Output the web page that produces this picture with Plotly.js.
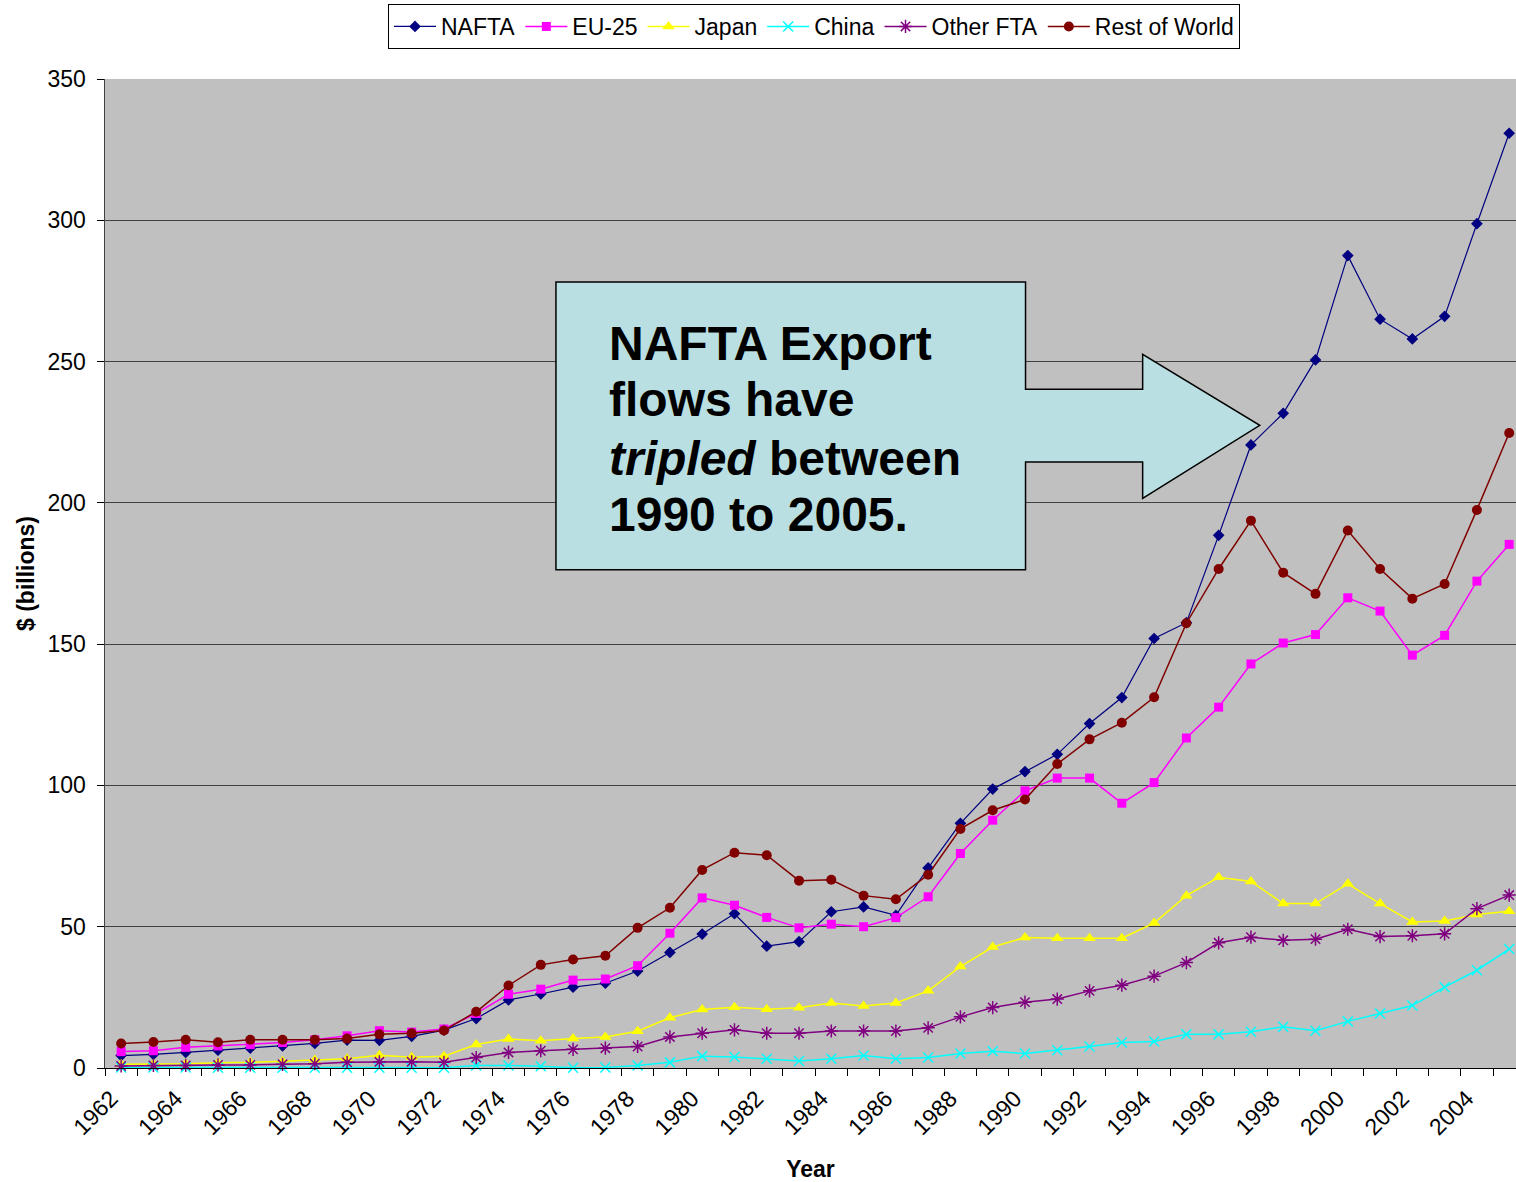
<!DOCTYPE html>
<html>
<head>
<meta charset="utf-8">
<script src="https://cdn.plot.ly/plotly-3.0.1.min.js"></script>
<style>html,body{margin:0;padding:0;background:#fff;}#chart{width:1516px;height:1182px;}</style>
</head>
<body>
<div id="chart"></div>
<script>
const years = [1962,1963,1964,1965,1966,1967,1968,1969,1970,1971,1972,1973,1974,1975,1976,1977,1978,1979,1980,1981,1982,1983,1984,1985,1986,1987,1988,1989,1990,1991,1992,1993,1994,1995,1996,1997,1998,1999,2000,2001,2002,2003,2004,2005];

const nafta = [4.4,4.8,5.5,6.3,7.0,7.8,8.7,9.9,9.8,11.2,13.4,17.5,24.1,26.2,28.6,30.0,34.3,40.9,47.4,54.6,43.1,44.7,55.3,57.0,54.0,70.8,86.6,98.7,104.9,111.0,121.9,131.1,152.0,157.6,188.5,220.5,231.7,250.6,287.5,265.0,258.0,266.0,298.8,330.8];
const eu25 = [5.8,6.1,7.3,7.8,8.3,9.0,10.0,11.4,13.2,12.7,13.8,19.3,26.1,27.9,31.1,31.5,36.2,47.7,60.2,57.6,53.3,49.6,50.9,50.0,53.2,60.6,75.9,87.7,98.1,102.6,102.6,93.7,101.0,116.8,127.7,143.0,150.4,153.4,166.4,161.7,146.1,153.1,172.3,185.3];
const japan = [1.3,1.4,1.5,1.9,2.0,2.4,2.8,3.3,4.5,3.8,4.2,8.3,10.3,9.6,10.4,11.0,13.0,17.8,20.7,21.5,20.8,21.3,23.0,21.9,23.0,27.3,35.9,42.8,46.2,45.9,45.9,45.9,51.3,61.0,67.5,66.0,58.2,58.2,65.2,58.2,51.7,52.0,54.3,55.5];
const china = [0.2,0.2,0.2,0.1,0.1,0.1,0.1,0.1,0.1,0.1,0.1,0.9,0.9,0.6,0.1,0.2,0.9,2.0,4.2,3.9,3.3,2.5,3.3,4.4,3.3,3.7,5.1,5.9,5.1,6.3,7.6,9.0,9.4,11.9,11.9,12.8,14.6,13.2,16.5,19.3,22.1,28.6,34.6,42.1];
const otherFTA = [0.7,0.9,0.9,1.1,1.1,1.3,1.5,2.0,2.2,2.2,2.0,3.7,5.5,6.1,6.6,7.0,7.6,11.0,12.3,13.5,12.3,12.3,13.1,13.1,13.1,14.2,18.1,21.4,23.3,24.4,27.3,29.3,32.5,37.3,44.3,46.3,45.2,45.6,49.1,46.5,46.8,47.5,56.4,61.2];
const restOfWorld = [8.7,9.2,10.0,9.1,10.0,10.0,10.0,10.4,11.9,12.3,13.3,19.9,29.2,36.5,38.4,39.7,49.6,56.7,70.1,76.2,75.3,66.3,66.6,61.0,59.7,68.4,84.6,91.2,95.0,107.6,116.3,122.2,131.2,157.4,176.6,193.7,175.3,167.8,190.2,176.6,166.1,171.3,197.5,224.7];

const seriesNames = ["NAFTA","EU-25","Japan","China","Other FTA","Rest of World"];
const yTickVals = [0,50,100,150,200,250,300,350];
const xTitle = "Year";
const yTitle = "$ (billions)";
const calloutLines = ["NAFTA Export","flows have","<i>tripled</i> between","1990 to 2005."];

const FONT = "Liberation Sans, Arial, sans-serif";

function tr(name, y, color, symbol, msize, lw, mline) {
  return {
    x: years, y: y, name: name, type: "scatter", mode: "lines+markers",
    line: {color: color, width: lw},
    marker: {symbol: symbol, size: msize, color: color, line: {color: color, width: mline}},
    cliponaxis: false
  };
}

const data = [
  tr(seriesNames[0], nafta, "#000080", "diamond", 9, 1.2, 0),
  tr(seriesNames[1], eu25, "#FF00FF", "square", 9, 1.5, 0),
  tr(seriesNames[2], japan, "#FFFF00", "triangle-up", 11, 1.5, 0),
  tr(seriesNames[3], china, "#00FFFF", "x-thin-open", 10, 1.5, 1.5),
  tr(seriesNames[4], otherFTA, "#800080", "asterisk-open", 11, 1.5, 1.5),
  tr(seriesNames[5], restOfWorld, "#800000", "circle", 10, 1.5, 0)
];

// plot area in pixels: left 105, top 79, width 1411, height 989
const PX = {l:105, t:79, w:1411, h:989};
function px(x){return (x-PX.l)/PX.w;}
function py(y){return (PX.t+PX.h-y)/PX.h;}

const calloutPts = [[556,282],[1025.6,282],[1025.6,389.3],[1142.6,389.3],[1142.6,354.3],[1259.7,425.3],[1142.6,498.3],[1142.6,462],[1025.6,462],[1025.6,569.7],[556,569.7]];
const path = "M " + calloutPts.map(p => px(p[0]).toFixed(4)+","+py(p[1]).toFixed(4)).join(" L ") + " Z";

const baselines = [360,416.7,475,531.7];
const annFS = 48;
const annotations = calloutLines.map((t,i) => ({
  xref:"paper", yref:"paper", x: px(607), y: py(baselines[i]-0.35*annFS),
  xanchor:"left", yanchor:"middle", showarrow:false, align:"left",
  text: "<b>"+t+"</b>", font:{family:FONT, size:annFS, color:"#000"}
}));

const layout = {
  width:1516, height:1182,
  margin:{l:105, r:0, t:79, b:114, pad:0},
  paper_bgcolor:"#FFFFFF", plot_bgcolor:"#C0C0C0",
  font:{family:FONT, size:23, color:"#000"},
  showlegend:true,
  legend:{orientation:"h", x:px(814), xanchor:"center", y:py(4), yanchor:"top",
    bgcolor:"#FFFFFF", bordercolor:"#000", borderwidth:1, font:{family:FONT, size:23},
    itemwidth:42, tracegroupgap:0},
  xaxis:{type:"linear", range:[1961.5, 1961.5 + 1411/32.28], tickmode:"linear", tick0:1962, dtick:2,
    ticks:"", tickangle:-45, showgrid:false, zeroline:false, showline:true, linecolor:"#000", linewidth:1,
    tickfont:{family:FONT, size:23}, automargin:false, ticklabelstandoff:7, ticklabelshift:-10,
    minor:{tick0:1961.5, dtick:1, ticks:"outside", ticklen:7, tickcolor:"#000", tickwidth:1, showgrid:false},
    title:{text:"<b>"+xTitle+"</b>", font:{family:FONT, size:23}, standoff:26}},
  yaxis:{range:[0,350], tickmode:"array", tickvals:yTickVals, ticks:"outside", ticklen:7, tickcolor:"#000",
    showgrid:true, gridcolor:"#404040", gridwidth:1, zeroline:false, showline:true, linecolor:"#404040", linewidth:1.5,
    tickfont:{family:FONT, size:23}, automargin:false, ticklabelstandoff:6,
    title:{text:"<b>"+yTitle+"</b>", font:{family:FONT, size:23}, standoff:6}},
  shapes:[{type:"path", xref:"paper", yref:"paper", path:path, fillcolor:"#B9DFE3", line:{color:"#000", width:1.5}, layer:"above"}],
  annotations: annotations
};

Plotly.newPlot("chart", data, layout, {displayModeBar:false, staticPlot:true});
</script>
</body>
</html>
